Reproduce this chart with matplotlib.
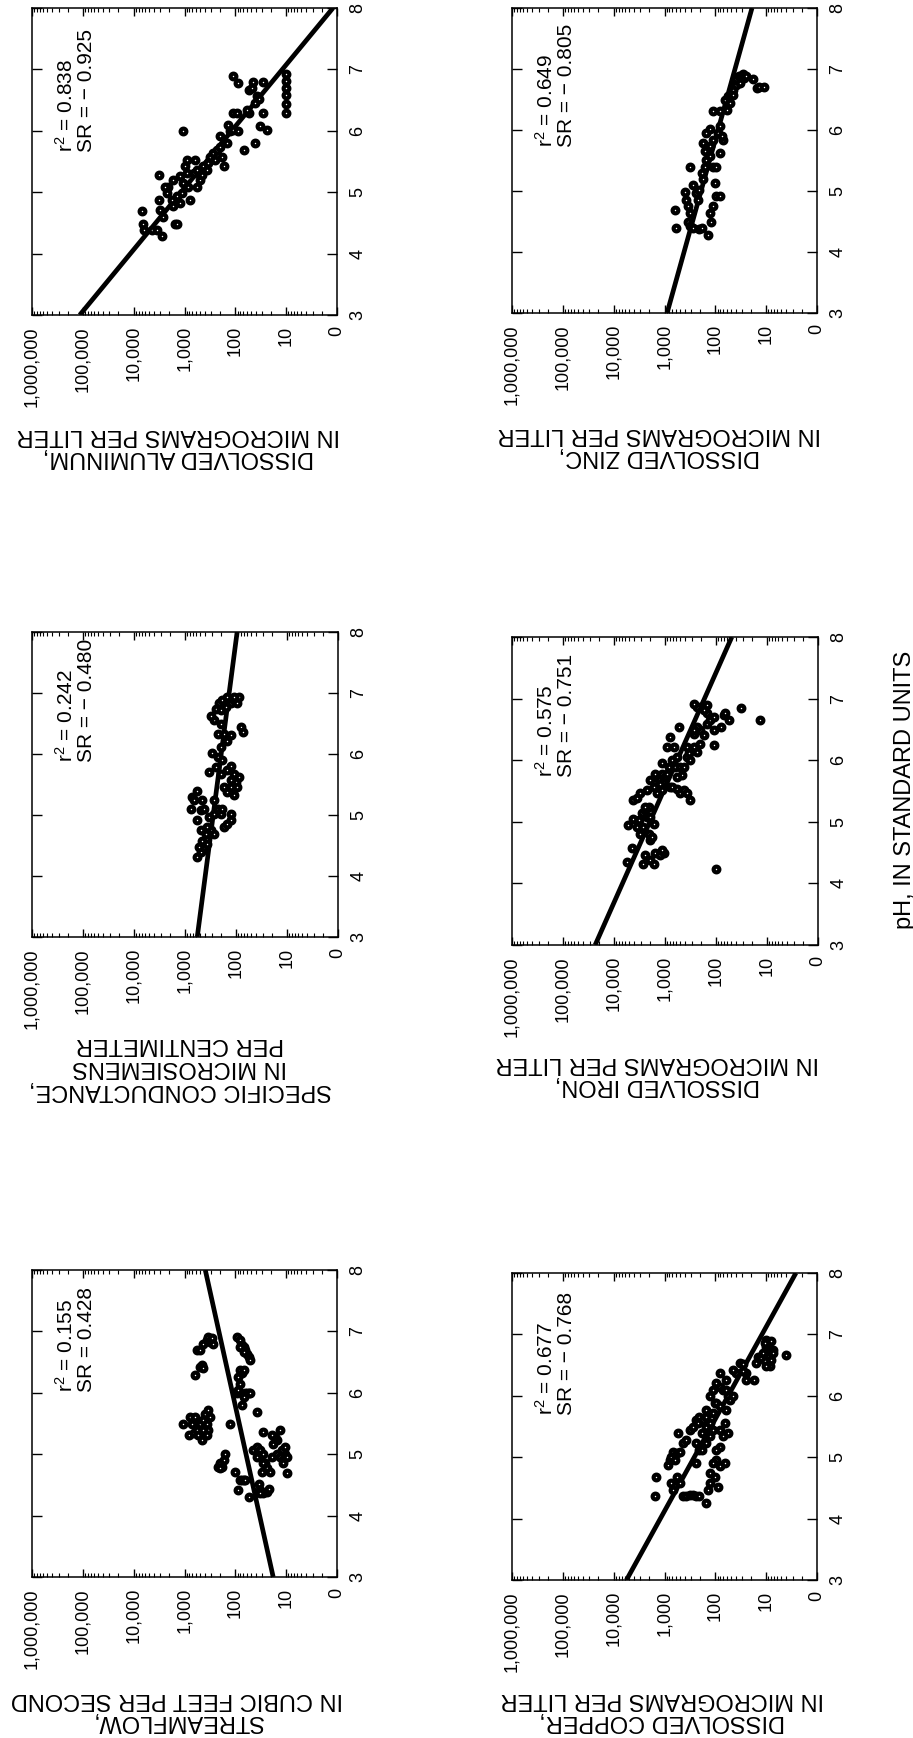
import numpy as np
import matplotlib
matplotlib.use("Agg")
import matplotlib.pyplot as plt
from matplotlib.ticker import LogLocator, NullFormatter, FixedLocator, FixedFormatter

plt.rcParams['font.family'] = ['Liberation Sans', 'DejaVu Sans']
plt.rcParams['mathtext.fontset'] = 'custom'
plt.rcParams['mathtext.rm'] = 'Liberation Sans'
plt.rcParams['mathtext.it'] = 'Liberation Sans'

# ---------------- data ----------------
conc_ticks = [1, 10, 100, 1000, 10000, 100000, 1000000]
conc_tick_labels = ["0", "10", "100", "1,000", "10,000", "100,000", "1,000,000"]
ph_ticks = [3, 4, 5, 6, 7, 8]
ph_tick_labels = ["3", "4", "5", "6", "7", "8"]

# Dissolved aluminum
al_conc = [6900, 6600, 6300, 4400, 3500, 2800, 3200, 3200, 3000, 2600, 2200, 2100, 1550, 1400,
           1800, 1650, 1400, 1200, 1130, 1050, 1230, 980, 900, 840, 780, 580, 660, 620, 580, 490,
           460, 430, 365, 340, 315, 270, 230, 200, 185, 250, 1050, 200, 170, 137, 127, 110, 87,
           148, 69, 110, 93, 55, 59, 110, 87, 55, 48, 44, 38, 35, 41, 28, 41, 32, 24, 28,
           10, 10, 10, 10, 10, 10, 1650, 2400, 910]
al_ph = [4.70, 4.49, 4.39, 4.39, 4.39, 4.29, 5.28, 4.87, 4.71, 4.60, 4.98, 5.09, 4.48, 4.49,
         4.87, 4.77, 4.93, 4.82, 4.98, 5.15, 5.26, 5.42, 5.31, 5.09, 4.87, 5.09, 5.31, 5.53, 5.36, 5.20,
         5.28, 5.42, 5.36, 5.47, 5.58, 5.64, 5.69, 5.74, 5.58, 5.53, 5.99, 5.91, 5.42, 6.10, 5.99, 6.02, 5.99,
         5.80, 5.69, 6.29, 6.29, 6.29, 6.34, 6.90, 6.78, 6.67, 6.70, 6.80, 6.56, 6.51, 6.45, 6.80, 5.80, 6.08, 6.01, 6.29,
         6.92, 6.81, 6.70, 6.59, 6.43, 6.29, 5.20, 5.09, 5.53]
al_fit = [115000, 1.2]   # fitted value at pH 3 and pH 8
al_stats = ("0.838", "\u2212 0.925")

# Dissolved zinc
zn_conc = [630, 600, 400, 370, 350, 320, 350, 320, 275, 205, 185, 140, 320, 275, 235, 220, 205, 175,
           185, 160, 150, 130, 140, 175, 160, 130, 110, 110, 100, 95, 110, 120, 125, 80, 95, 80, 70,
           90, 80, 125, 150, 75, 110, 80, 60, 65, 56, 52, 48, 45, 39, 35, 31, 45, 52, 39, 33, 29, 27,
           25, 18, 15, 14, 11]
zn_ph = [4.69, 4.39, 4.99, 4.86, 4.75, 4.64, 4.50, 4.42, 4.39, 4.37, 4.39, 4.28, 5.40, 5.10, 4.97, 4.86, 5.02, 5.19,
         5.30, 5.40, 5.51, 5.57, 5.68, 5.79, 5.65, 5.73, 5.84, 5.40, 5.13, 4.91, 4.75, 4.50, 4.64, 4.91, 5.40, 5.62, 5.84,
         5.95, 6.06, 6.01, 5.95, 5.90, 6.31, 6.31, 6.33, 6.50, 6.55, 6.58, 6.61, 6.66, 6.83, 6.88, 6.88, 6.58, 6.44, 6.74, 6.77, 6.91, 6.85,
         6.88, 6.83, 6.69, 6.70, 6.70]
zn_fit = [890, 19]
zn_stats = ("0.649", "\u2212 0.805")

# Specific conductance
sc_conc = [575, 490, 425, 535, 365, 460, 390, 315, 270, 490, 365, 575, 490, 780, 720, 665, 575, 460, 425,
           340, 270, 230, 200, 170, 148, 127, 185, 127, 270, 340, 250, 290, 230, 200, 185, 200, 148, 127,
           110, 100, 87, 127, 148, 110, 94, 127, 170, 148, 170, 230, 127, 200, 270, 315, 250, 200, 215,
           185, 160, 127, 148, 110, 94, 87, 110, 81, 74]
sc_ph = [4.31, 4.39, 4.48, 4.48, 4.53, 4.58, 4.69, 4.75, 4.69, 4.75, 4.80, 4.91, 5.08, 5.10, 5.30, 5.24, 5.40, 5.24, 5.10,
         4.97, 5.02, 5.10, 5.02, 4.80, 4.86, 4.91, 5.10, 5.02, 5.24, 5.70, 5.79, 6.01, 5.95, 6.11, 5.90, 5.68, 5.73, 5.81,
         5.68, 5.54, 5.62, 5.46, 5.38, 5.32, 5.46, 5.57, 5.46, 6.22, 6.33, 6.33, 6.31, 6.50, 6.55, 6.63, 6.74, 6.72, 6.83,
         6.88, 6.77, 6.83, 6.93, 6.88, 6.83, 6.93, 6.93, 6.44, 6.36]
sc_fit = [575, 95]
sc_stats = ("0.242", "\u2212 0.480")

# Dissolved iron
fe_conc = [5600, 5200, 4450, 4150, 3550, 3100, 3300, 2850, 2450, 2650, 2250, 2100, 1950, 2450, 2650, 1950,
           1670, 1550, 1230, 1060, 1140, 1800, 1670, 1950, 2100, 4150, 3550, 3100, 2450, 2250, 1950, 1550,
           1330, 1670, 1450, 1230, 1140, 980, 1140, 910, 850, 730, 790, 1140, 580, 630, 500, 730, 580, 500,
           430, 370, 320, 465, 430, 370, 320, 370, 345, 275, 235, 205, 580, 910, 680, 790, 540, 275, 205,
           175, 235, 150, 130, 110, 150, 205, 235, 275, 275, 110, 81, 71, 66, 56, 110, 33, 13.5, 102, 150, 175]
fe_ph = [4.35, 4.95, 4.57, 5.05, 4.92, 4.81, 5.03, 5.14, 5.19, 4.92, 5.08, 4.81, 4.70, 4.46, 4.32, 4.38,
         4.32, 4.49, 4.46, 4.49, 4.54, 4.76, 4.97, 5.08, 5.24, 5.35, 5.38, 5.46, 5.24, 5.51, 5.68, 5.78,
         5.68, 5.57, 5.46, 5.62, 5.78, 5.73, 5.95, 5.78, 5.89, 6.00, 5.57, 5.51, 6.05, 5.89, 5.89, 5.57, 5.54, 5.46,
         5.51, 5.46, 5.35, 5.76, 5.89, 6.05, 6.00, 6.22, 6.11, 6.22, 6.14, 6.27, 5.73, 6.22, 6.22, 6.38, 6.54, 6.43, 6.49,
         6.41, 6.54, 6.59, 6.65, 6.70, 6.76, 6.86, 6.86, 6.92, 6.49, 6.49, 6.54, 6.73, 6.76, 6.65, 6.24, 6.84, 6.65, 4.24, 6.89, 6.81]
fe_fit = [23400, 49]
fe_stats = ("0.575", "\u2212 0.751")

# Streamflow
sf_conc = [1070, 830, 780, 720, 665, 620, 575, 535, 490, 425, 390, 365, 340, 315, 340, 365, 425, 460,
           620, 490, 460, 425, 575, 490, 425, 365, 340, 315, 270, 290, 215, 200, 185, 170, 160, 200, 127,
           100, 87, 81, 74, 69, 64, 55, 94, 87, 81, 74, 87, 81, 69, 64, 59, 55, 51, 74, 69, 94, 81, 74, 69,
           64, 59, 55, 51, 81, 69, 38, 44, 38, 38, 32, 28, 26, 30, 35, 32, 28, 24, 22, 32, 28, 24, 20.5, 19,
           17.8, 15.2, 13.2, 16.5, 19, 28, 15.2, 13.2, 11.3, 10.5, 12.3, 10.5, 9.8, 11.3, 9.8]
sf_ph = [5.50, 5.31, 5.61, 5.50, 5.34, 5.61, 5.39, 5.31, 5.50, 5.55, 5.66, 5.50, 5.72, 5.61, 5.39, 5.31, 5.39, 5.23,
         6.29, 6.42, 6.45, 6.40, 6.70, 6.70, 6.80, 6.86, 6.91, 6.83, 6.80, 6.89, 4.79, 4.85, 4.79, 4.90, 5.01, 4.77, 5.50,
         4.71, 4.41, 4.58, 4.58, 4.58, 4.58, 4.30, 5.99, 6.04, 6.15, 6.32, 6.26, 6.37, 6.37, 5.99, 5.99, 5.99, 5.99, 5.80, 5.93, 6.91, 6.86, 6.78, 6.75,
         6.70, 6.64, 6.59, 6.53, 6.75, 6.67, 5.69, 5.07, 5.12, 4.96, 5.07, 5.01, 4.85, 4.71, 4.52, 4.41, 4.36, 4.39, 4.44, 4.36, 4.85, 4.77, 4.71, 4.96,
         5.17, 5.23, 5.39, 5.28, 5.31, 5.36, 5.01, 4.96, 4.90, 5.01, 5.07, 5.12, 4.96, 4.85, 4.69]
sf_fit = [18, 390]
sf_stats = ("0.155", "0.428")

# Dissolved copper
cu_conc = [1550, 1450, 850, 790, 730, 680, 630, 580, 500, 730, 680, 580, 500, 430, 370, 320, 275, 235, 205,
           150, 540, 430, 370, 320, 275, 235, 220, 205, 187, 235, 205, 235, 187, 150, 130, 110, 150, 175, 150,
           130, 110, 102, 130, 110, 95, 81, 61, 81, 95, 81, 61, 56, 71, 81, 95, 110, 130, 102, 81, 66, 89, 130,
           139, 95, 81, 66, 150, 71, 61, 56, 52, 45, 39, 45, 33, 29, 25, 29, 25, 17, 15.5, 14.5, 12.5, 11.5, 10,
           8.5, 9.2, 10.7, 7.4, 10, 10.7, 7.9, 7.4, 7.9, 8.5, 10, 4.0]
cu_ph = [4.37, 4.68, 4.88, 4.96, 5.01, 5.09, 4.96, 5.07, 5.09, 4.58, 4.47, 4.68, 4.58, 4.36, 4.36, 4.39, 4.39, 4.36, 4.36,
         4.26, 5.39, 5.23, 5.28, 5.45, 5.50, 5.61, 5.55, 5.66, 5.39, 5.23, 5.12, 4.90, 5.12, 5.23, 5.34, 5.45, 5.50, 5.61, 5.66,
         5.55, 5.72, 5.88, 5.99, 6.10, 6.21, 6.15, 6.26, 6.37, 5.88, 5.83, 5.77, 5.39, 5.34, 5.17, 4.96, 4.90, 4.74, 4.68, 4.85, 4.90, 4.52, 4.58,
         4.47, 5.12, 5.45, 5.55, 5.77, 6.10, 6.10, 5.99, 5.93, 5.99, 6.37, 6.42, 6.53, 6.51, 6.37, 6.40, 6.26, 6.26, 6.53, 6.64, 6.61, 6.70, 6.80,
         6.75, 6.64, 6.56, 6.75, 6.91, 6.86, 6.89, 6.70, 6.59, 6.48, 6.48, 6.67]
cu_fit = [5600, 2.6]
cu_stats = ("0.677", "\u2212 0.768")

fit_ph = [3, 8]

# ---------------- layout ----------------
W, H = 913, 1738
fig = plt.figure(figsize=(W / 100, H / 100), dpi=100)

def px_axes(x0, y0, x1, y1):
    return fig.add_axes([x0 / W, 1 - y1 / H, (x1 - x0) / W, (y1 - y0) / H])

panels = [
    ((32, 8, 337, 315), al_conc, al_ph, al_fit, al_stats, (350000, 5.65),
     "DISSOLVED ALUMINUM,\nIN MICROGRAMS PER LITER", (178, 446)),
    ((512, 8, 817, 313), zn_conc, zn_ph, zn_fit, zn_stats, (350000, 5.72),
     "DISSOLVED ZINC,\nIN MICROGRAMS PER LITER", (659, 445)),
    ((32, 632, 338, 937), sc_conc, sc_ph, sc_fit, sc_stats, (350000, 5.87),
     "SPECIFIC CONDUCTANCE,\nIN MICROSIEMENS\nPER CENTIMETER", (180, 1067)),
    ((512, 637, 818, 945), fe_conc, fe_ph, fe_fit, fe_stats, (350000, 5.73),
     "DISSOLVED IRON,\nIN MICROGRAMS PER LITER", (657, 1074)),
    ((32, 1270, 337, 1577), sf_conc, sf_ph, sf_fit, sf_stats, (350000, 6.01),
     "STREAMFLOW,\nIN CUBIC FEET PER SECOND", (177, 1710)),
    ((512, 1273, 817, 1580), cu_conc, cu_ph, cu_fit, cu_stats, (350000, 5.69),
     "DISSOLVED COPPER,\nIN MICROGRAMS PER LITER", (662, 1710)),
]

for rect, conc, ph, fit, stats, spos, label, lpos in panels:
    ax = px_axes(*rect)
    ax.set_xscale('log')
    ax.set_xlim(1e6, 1)
    ax.set_ylim(3, 8)
    ax.plot(fit, fit_ph, color='black', lw=3.4, solid_capstyle='butt', zorder=2)
    ax.scatter(conc, ph, s=17, facecolors='white', edgecolors='black', linewidths=3.0, zorder=3)

    ax.xaxis.set_major_locator(FixedLocator(conc_ticks))
    ax.xaxis.set_major_formatter(FixedFormatter(conc_tick_labels))
    ax.xaxis.set_minor_locator(LogLocator(base=10, subs=np.arange(2, 10), numticks=30))
    ax.xaxis.set_minor_formatter(NullFormatter())
    ax.set_yticks(ph_ticks)
    ax.set_yticklabels(ph_tick_labels)

    ax.tick_params(axis='x', which='major', direction='in', length=6, width=1.0,
                   top=True, bottom=True, labelrotation=90, labelsize=13, pad=8)
    ax.tick_params(axis='x', which='minor', direction='in', length=3, width=0.8,
                   top=True, bottom=True)
    ax.tick_params(axis='y', which='major', direction='in', length=7, width=1.0,
                   left=True, right=True, labelleft=False, labelright=True,
                   labelrotation=90, labelsize=13, pad=9)
    for lab in ax.get_yticklabels():
        lab.set_verticalalignment('center')
    for sp in ax.spines.values():
        sp.set_linewidth(1.1)

    ax.text(spos[0], spos[1], "r$^{2}$ = " + stats[0] + "\nSR = " + stats[1],
            rotation=90, ha='left', va='bottom', fontsize=15, linespacing=1.0,
            rotation_mode='default', zorder=4)

    fig.text(lpos[0] / W, 1 - lpos[1] / H, label, rotation=180, ha='center', va='center',
             multialignment='center', fontsize=17, linespacing=1.05)

fig.text(905 / W, 1 - 790 / H, "pH, IN STANDARD UNITS", rotation=90, ha='center', va='center',
         fontsize=17)

fig.savefig("out.png", dpi=100)
